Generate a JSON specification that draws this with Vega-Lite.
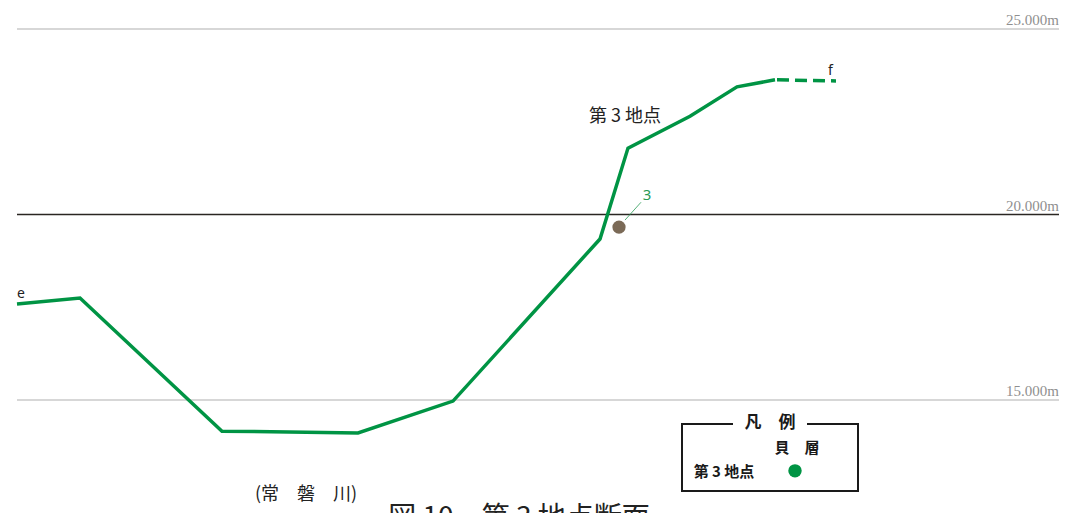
{
  "$schema": "https://vega.github.io/schema/vega-lite/v6.json",
  "width": 1067,
  "height": 513,
  "padding": 0,
  "autosize": {"type": "none"},
  "background": "white",
  "config": {"view": {"stroke": null}},
  "datasets": {
    "profile": [
      {"x": 17, "elev": 17.59},
      {"x": 80, "elev": 17.75},
      {"x": 222, "elev": 14.16},
      {"x": 358, "elev": 14.11},
      {"x": 453, "elev": 14.97},
      {"x": 600, "elev": 19.34},
      {"x": 628, "elev": 21.79},
      {"x": 690, "elev": 22.65},
      {"x": 737, "elev": 23.44},
      {"x": 775, "elev": 23.63}
    ],
    "dashed": [
      {"x": 775, "elev": 23.63},
      {"x": 836, "elev": 23.60}
    ],
    "levels": [
      {"x1": 17, "x2": 1059, "elev": 25, "label": "25.000m", "main": false},
      {"x1": 17, "x2": 1059, "elev": 20, "label": "20.000m", "main": true},
      {"x1": 17, "x2": 1059, "elev": 15, "label": "15.000m", "main": false}
    ],
    "shell": [{"x": 619, "elev": 19.66, "lx1": 625, "ly1": 19.85, "lx2": 641, "ly2": 20.33, "tx": 647, "ty": 20.52, "label": "3"}],
    "labels": [
      {"x": 589, "elev": 22.63, "text": "第 3 地点", "size": "big"},
      {"x": 17, "elev": 17.85, "text": "e", "size": "small"},
      {"x": 828, "elev": 23.87, "text": "f", "size": "small"},
      {"x": 255, "elev": 12.45, "text": "(常　磐　川)", "size": "mid"}
    ],
    "caption": [{"x": 519, "elev": 11.79, "text": "図 10　第 3 地点断面"}],
    "legendBox": [{"x1": 682, "x2": 858, "y1": 14.35, "y2": 12.55}],
    "legendGap": [{"x1": 733, "x2": 807, "y1": 14.52, "y2": 14.18}],
    "legendText": [
      {"x": 770, "elev": 14.38, "text": "凡　例", "kind": "title"},
      {"x": 797, "elev": 13.71, "text": "貝　層", "kind": "head"},
      {"x": 724, "elev": 13.06, "text": "第 3 地点", "kind": "head"}
    ],
    "legendDot": [{"x": 795, "elev": 13.09}]
  },
  "encoding": {
    "x": {"field": "x", "type": "quantitative", "scale": {"domain": [0, 1067], "nice": false, "zero": false}, "axis": null},
    "y": {"field": "elev", "type": "quantitative", "scale": {"domain": [11.954, 25.782], "nice": false, "zero": false}, "axis": null}
  },
  "layer": [
    {
      "data": {"name": "levels"},
      "transform": [{"filter": "!datum.main"}],
      "mark": {"type": "rule", "stroke": "#b0b0b0", "strokeWidth": 1.2},
      "encoding": {"x": {"field": "x1", "type": "quantitative"}, "x2": {"field": "x2"}}
    },
    {
      "data": {"name": "levels"},
      "transform": [{"filter": "datum.main"}],
      "mark": {"type": "rule", "stroke": "#2a2622", "strokeWidth": 1.5},
      "encoding": {"x": {"field": "x1", "type": "quantitative"}, "x2": {"field": "x2"}}
    },
    {
      "data": {"name": "levels"},
      "mark": {"type": "text", "align": "right", "baseline": "alphabetic", "dy": -4, "font": "Liberation Serif", "fontSize": 15, "fill": "#8f8f8f"},
      "encoding": {"x": {"field": "x2", "type": "quantitative"}, "text": {"field": "label"}}
    },
    {
      "data": {"name": "profile"},
      "mark": {"type": "line", "stroke": "#009444", "strokeWidth": 3.5, "strokeJoin": "miter"},
      "encoding": {"order": {"field": "x", "type": "quantitative"}}
    },
    {
      "data": {"name": "dashed"},
      "mark": {"type": "line", "stroke": "#009444", "strokeWidth": 3.5, "strokeDash": [12, 6], "strokeDashOffset": -2},
      "encoding": {}
    },
    {
      "data": {"name": "shell"},
      "mark": {"type": "rule", "stroke": "#2a9a55", "strokeWidth": 0.8},
      "encoding": {
        "x": {"field": "lx1", "type": "quantitative"},
        "y": {"field": "ly1", "type": "quantitative"},
        "x2": {"field": "lx2"},
        "y2": {"field": "ly2"}
      }
    },
    {
      "data": {"name": "shell"},
      "mark": {"type": "circle", "fill": "#7b6a57", "opacity": 1, "size": 175},
      "encoding": {}
    },
    {
      "data": {"name": "shell"},
      "mark": {"type": "text", "align": "center", "baseline": "middle", "font": "Noto Sans", "fontSize": 15, "fill": "#2a9a55"},
      "encoding": {
        "x": {"field": "tx", "type": "quantitative"},
        "y": {"field": "ty", "type": "quantitative"},
        "text": {"field": "label"}
      }
    },
    {
      "data": {"name": "labels"},
      "transform": [{"filter": "datum.size == 'big'"}],
      "mark": {"type": "text", "align": "left", "baseline": "middle", "font": "Noto Sans CJK JP", "fontSize": 18, "fill": "#222222"},
      "encoding": {"text": {"field": "text"}}
    },
    {
      "data": {"name": "labels"},
      "transform": [{"filter": "datum.size == 'small'"}],
      "mark": {"type": "text", "align": "left", "baseline": "middle", "font": "Noto Sans", "fontSize": 14, "fill": "#222222"},
      "encoding": {"text": {"field": "text"}}
    },
    {
      "data": {"name": "labels"},
      "transform": [{"filter": "datum.size == 'mid'"}],
      "mark": {"type": "text", "align": "left", "baseline": "middle", "font": "Noto Sans CJK JP", "fontSize": 18, "fill": "#222222"},
      "encoding": {"text": {"field": "text"}}
    },
    {
      "data": {"name": "caption"},
      "mark": {"type": "text", "align": "center", "baseline": "middle", "font": "Noto Sans CJK JP", "fontSize": 28, "fill": "#222222"},
      "encoding": {"text": {"field": "text"}}
    },
    {
      "data": {"name": "legendBox"},
      "mark": {"type": "rect", "fill": null, "stroke": "#1a1a1a", "strokeWidth": 2},
      "encoding": {
        "x": {"field": "x1", "type": "quantitative"},
        "x2": {"field": "x2"},
        "y": {"field": "y1", "type": "quantitative"},
        "y2": {"field": "y2"}
      }
    },
    {
      "data": {"name": "legendGap"},
      "mark": {"type": "rect", "fill": "white", "stroke": null},
      "encoding": {
        "x": {"field": "x1", "type": "quantitative"},
        "x2": {"field": "x2"},
        "y": {"field": "y1", "type": "quantitative"},
        "y2": {"field": "y2"}
      }
    },
    {
      "data": {"name": "legendText"},
      "transform": [{"filter": "datum.kind == 'title'"}],
      "mark": {"type": "text", "align": "center", "baseline": "middle", "font": "Noto Sans CJK JP", "fontSize": 17, "fontWeight": "bold", "fill": "#1a1a1a"},
      "encoding": {"text": {"field": "text"}}
    },
    {
      "data": {"name": "legendText"},
      "transform": [{"filter": "datum.kind == 'head'"}],
      "mark": {"type": "text", "align": "center", "baseline": "middle", "font": "Noto Sans CJK JP", "fontSize": 15, "fontWeight": "bold", "fill": "#1a1a1a"},
      "encoding": {"text": {"field": "text"}}
    },
    {
      "data": {"name": "legendDot"},
      "mark": {"type": "circle", "fill": "#009444", "opacity": 1, "size": 180},
      "encoding": {}
    }
  ]
}
